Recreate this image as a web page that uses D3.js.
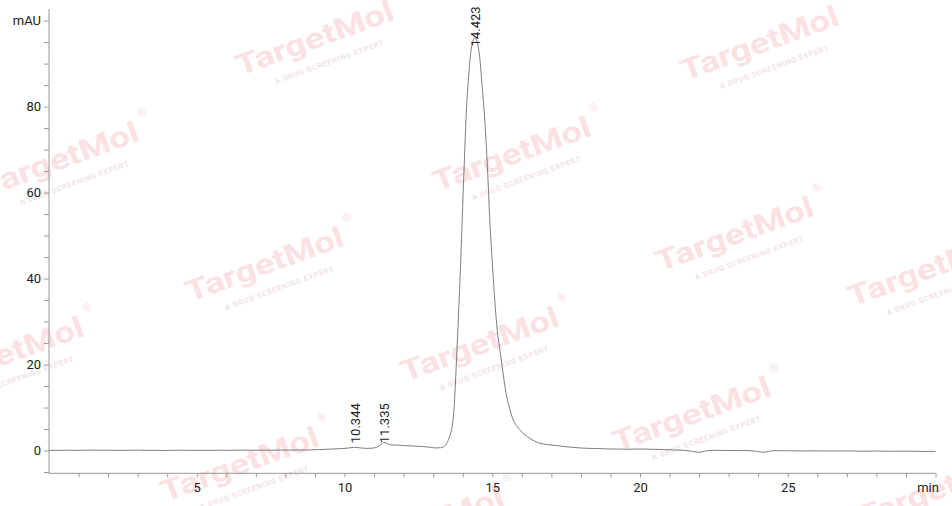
<!DOCTYPE html>
<html>
<head>
<meta charset="utf-8">
<script src="https://cdn.jsdelivr.net/npm/d3@7"></script>
<style>
  body { margin: 0; background: #fff; }
  text { font-family: Roboto, "Noto Sans", sans-serif; }
</style>
</head>
<body>
<svg id="chart"></svg>
<script>
// retention time (min) and absorbance (mAU)
var times = [0.0, 0.3, 0.6, 0.9, 1.2, 1.5, 1.8, 2.1, 2.4, 2.7, 3.0, 3.3, 3.6, 3.9, 4.2, 4.5, 4.8,
  5.1, 5.4, 5.7, 6.0, 6.3, 6.6, 6.9, 7.2, 7.5, 7.8, 8.1, 8.4, 8.7, 9.0, 9.3, 9.6, 9.9, 10.1,
  10.344, 10.55, 10.75, 10.95, 11.1, 11.25, 11.335, 11.45, 11.6, 11.8, 12.0, 12.3, 12.6, 12.9,
  13.1, 13.25, 13.34, 13.42, 13.51, 13.6, 13.66, 13.72, 13.77, 13.82, 13.87, 13.92, 13.96,
  14.01, 14.06, 14.11, 14.19, 14.27, 14.35, 14.423, 14.49, 14.56, 14.65, 14.75, 14.85, 14.92,
  14.98, 15.04, 15.10, 15.17, 15.25, 15.32, 15.40, 15.49, 15.60, 15.71, 15.82, 15.94, 16.10,
  16.28, 16.56, 16.85, 17.18, 17.6, 18.07, 18.6, 19.0, 19.66, 20.0, 20.4, 20.8, 21.2,
  21.5, 21.75, 21.97, 22.1, 22.26, 22.6, 23.0, 23.3, 23.6, 23.9, 24.16, 24.35, 24.5, 25.0,
  25.5, 26.0, 26.5, 27.0, 27.5, 28.0, 28.5, 29.0, 29.5, 30.0];
var signal = [0.05, 0.02, 0.08, 0.03, 0.06, 0.10, 0.04, 0.07, 0.02, 0.06, 0.09, 0.03, 0.05, 0.01, 0.06, 0.08, 0.03,
  0.05, 0.02, 0.07, 0.04, 0.08, 0.10, 0.05, 0.09, 0.06, 0.12, 0.08, 0.14, 0.10, 0.18, 0.25, 0.35, 0.45, 0.55,
  0.75, 0.6, 0.5, 0.55, 0.8, 1.5, 1.9, 1.6, 1.3, 1.25, 1.15, 1.05, 0.95, 0.75,
  0.6, 0.65, 0.8, 1.3, 2.4, 4.2, 6.4, 11, 18, 25.5, 33.5, 42, 49,
  59, 68, 77, 86, 92.4, 95.3, 96, 95.0, 92.4, 85.5, 76.5, 64, 53,
  46, 39.7, 33.5, 28.0, 23.8, 20.3, 16.3, 12.5, 9.5, 7.1, 5.8, 4.8, 3.7,
  2.8, 1.8, 1.4, 1.15, 0.8, 0.55, 0.45, 0.35, 0.3, 0.35, 0.3, 0.22, 0.12,
  0.05, -0.15, -0.4, -0.3, -0.05, 0.05, 0.0, -0.02, 0.0, -0.15, -0.4, -0.2, -0.05, -0.05,
  -0.1, -0.08, -0.12, -0.1, -0.15, -0.12, -0.18, -0.14, -0.2, -0.2];

var peakTimes = [10.344, 11.335, 14.423];
var peakLabelLevels = [1.7, 1.7, 94];

var xTicks = [5, 10, 15, 20, 25, 30];
var xTickLabels = ["5", "10", "15", "20", "25", "min"];
var yTicks = [0, 20, 40, 60, 80, 100];
var yTickLabels = ["0", "20", "40", "60", "80", "mAU"];

var width = 952, height = 506;
var svg = d3.select("#chart").attr("width", width).attr("height", height);

// watermark
var marks = [[240, 76], [685, 81], [-15, 197], [437, 192], [660, 272], [190, 302], [852, 307],
  [-70, 392], [405, 382], [617, 452], [165, 502], [350, 562], [862, 527]];
var wm = svg.append("g");
marks.forEach(function (p) {
  var g = wm.append("g").attr("transform", "translate(" + p[0] + "," + p[1] + ") rotate(-20)");
  g.append("text")
    .attr("font-size", 29)
    .attr("font-weight", 700)
    .attr("fill", "#fbe1e1")
    .attr("textLength", 166)
    .attr("lengthAdjust", "spacingAndGlyphs")
    .text("TargetMol");
  g.append("text")
    .attr("x", 172).attr("y", -22)
    .attr("font-size", 11)
    .attr("fill", "#fbe1e1")
    .text("\u00ae");
  g.append("text")
    .attr("x", 31).attr("y", 20)
    .attr("font-size", 7.5)
    .attr("font-weight", 700)
    .attr("fill", "#f2e3e3")
    .attr("textLength", 115)
    .text("A DRUG SCREENING EXPERT");
});

var x = d3.scaleLinear().domain([0, 30]).range([49, 935.5]);
var y = d3.scaleLinear().domain([-5.3, 102.7]).range([473.3, 9]);

var xAxis = svg.append("g")
  .attr("transform", "translate(0," + y(-5.3) + ")")
  .call(d3.axisBottom(x).tickValues(d3.range(1, 31)).tickSize(4)
    .tickFormat(function (d) {
      var i = xTicks.indexOf(d);
      return i < 0 ? "" : xTickLabels[i];
    }));
xAxis.select(".domain").attr("stroke", "#999").attr("d", "M49,0H935.5");
xAxis.selectAll(".tick line").attr("stroke", "#999");
xAxis.selectAll(".tick text").attr("font-size", 13).attr("fill", "#222").attr("dy", "0.9em")
  .attr("dx", function (d) { return d === 30 ? -8 : 0; });

var yAxis = svg.append("g")
  .attr("transform", "translate(" + x(0) + ",0)")
  .call(d3.axisLeft(y).tickValues(d3.range(-5, 101, 5)).tickSize(5)
    .tickFormat(function (d) {
      var i = yTicks.indexOf(d);
      return i < 0 ? "" : yTickLabels[i];
    }));
yAxis.select(".domain").attr("stroke", "#999").attr("d", "M0," + y(102.7) + "V" + y(-5.3));
yAxis.selectAll(".tick line").attr("stroke", "#999");
yAxis.selectAll(".tick text").attr("font-size", 13).attr("fill", "#222").attr("x", -8);

var pts = times.map(function (t, i) { return [t, signal[i]]; });
var line = d3.line()
  .x(function (d) { return x(d[0]); })
  .y(function (d) { return y(d[1]); })
  .curve(d3.curveMonotoneX);

svg.append("path")
  .datum(pts)
  .attr("d", line)
  .attr("fill", "none")
  .attr("stroke", "#6e6e6e")
  .attr("stroke-width", 0.9);

svg.selectAll(".peak")
  .data(peakTimes)
  .enter()
  .append("text")
  .attr("class", "peak")
  .attr("transform", function (d, i) {
    return "translate(" + (x(d) + 5) + "," + y(peakLabelLevels[i]) + ") rotate(-90)";
  })
  .attr("font-size", 13)
  .attr("fill", "#222")
  .text(function (d) { return d3.format(".3f")(d); });
</script>
</body>
</html>
